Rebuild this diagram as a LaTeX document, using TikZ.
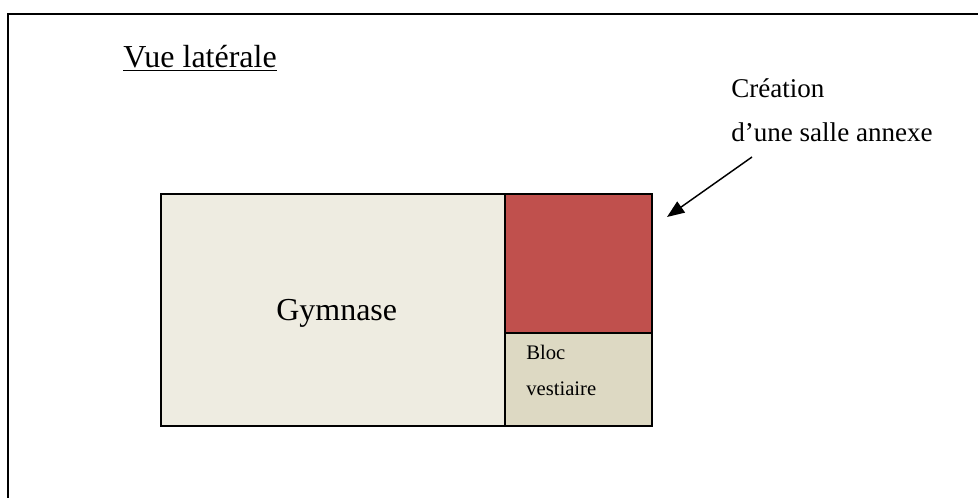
\documentclass[tikz,border=0pt]{standalone}
\usepackage{fontspec}
\setmainfont{Liberation Serif}
\usetikzlibrary{arrows.meta}
\definecolor{gymfill}{HTML}{EEECE1}
\definecolor{annexefill}{HTML}{C0504D}
\definecolor{vestfill}{HTML}{DDD9C3}
\begin{document}
\begin{tikzpicture}[x=0.75pt, y=-0.75pt]
	\tikzstyle{Block} = [rectangle, draw, line width=1.1pt, inner sep=0pt]
	\tikzstyle{Label} = [inner sep=0pt, anchor=base west]
	\useasboundingbox (0,0) rectangle (978,498);
	\draw[line width=1.4pt] (8,520) -- (8,14) -- (1000,14);
	\node (gym) at (333,310) [Block, fill=gymfill, minimum width=258pt, minimum height=174pt] {};
	\node (annexe) at (578.5,263.5) [Block, fill=annexefill, minimum width=110.25pt, minimum height=104.25pt] {};
	\node (vest) at (578.5,379.5) [Block, fill=vestfill, minimum width=110.25pt, minimum height=69.75pt] {};
	\node (gymtext) at (276,321) [Label] {\fontsize{24}{28}\selectfont Gymnase};
	\node (bloc) at (526,360) [Label] {\fontsize{15.5}{18}\selectfont Bloc};
	\node (vestiaire) at (526,396) [Label] {\fontsize{15.5}{18}\selectfont vestiaire};
	\node (title) at (123,68) [Label] {\fontsize{24}{28}\selectfont \underline{Vue latérale}};
	\node (creation) at (731,98) [Label] {\fontsize{20.3}{24}\selectfont Création};
	\node (salle) at (731,142) [Label] {\fontsize{20.3}{24}\selectfont d’une salle annexe};
	\coordinate (start) at (752,157);
	\coordinate (tip) at (667,217);
	\draw[line width=1.1pt, -{Triangle[length=13pt, width=10pt]}] (start) to (tip);
\end{tikzpicture}
\end{document}
